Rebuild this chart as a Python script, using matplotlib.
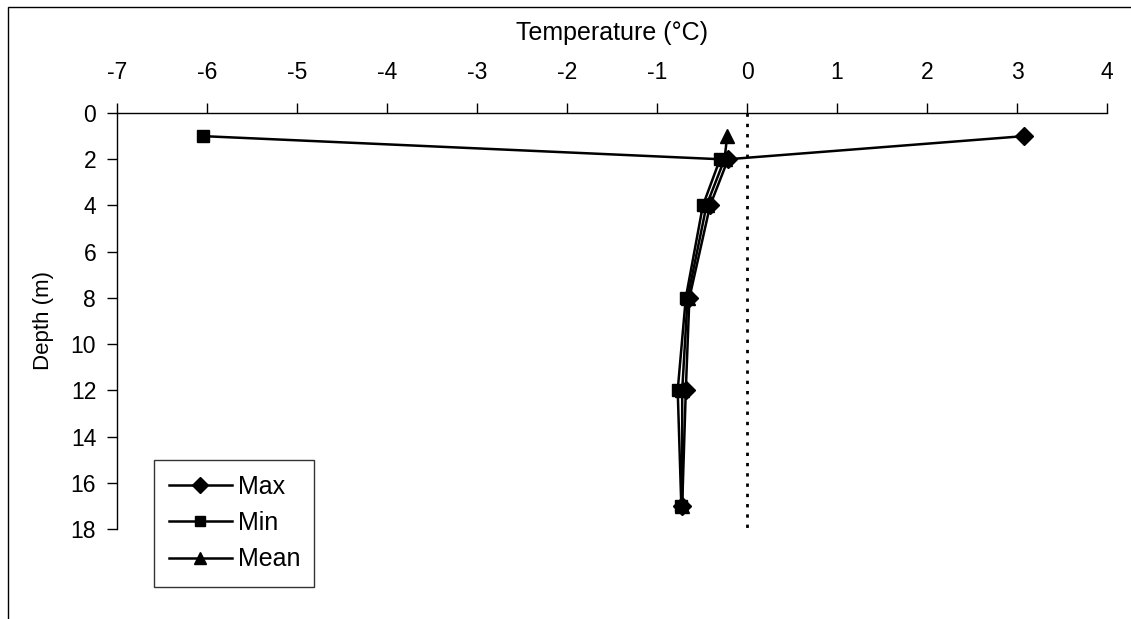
import matplotlib
matplotlib.use("Agg")
import matplotlib.pyplot as plt
from matplotlib.patches import Rectangle

plt.rcParams['font.family'] = ['Liberation Sans', 'DejaVu Sans']
plt.rcParams['axes.unicode_minus'] = False

depth = [1, 2, 4, 8, 12, 17]
t_max = [3.08, -0.21, -0.41, -0.64, -0.68, -0.72]
t_min = [-6.05, -0.30, -0.49, -0.68, -0.77, -0.73]
t_mean = [-0.22, -0.25, -0.45, -0.66, -0.72, -0.72]

x_ticks = list(range(-7, 5))
y_ticks = list(range(0, 20, 2))

fig = plt.figure(figsize=(11.31, 6.19), dpi=100)
ax = fig.add_axes([117 / 1131, 1 - 529 / 619, 990 / 1131, 416 / 619])

ax.plot(t_max, depth, color='black', lw=1.8, marker='D', ms=9, label='Max')
ax.plot(t_min, depth, color='black', lw=1.8, marker='s', ms=9, label='Min')
ax.plot(t_mean, depth, color='black', lw=1.8, marker='^', ms=10, label='Mean')
ax.plot([0, 0], [0, 18], color='black', lw=2, ls=(0, (1.2, 2.5)))

ax.set_xlim(-7, 4)
ax.set_ylim(18, 0)
ax.set_xticks(x_ticks)
ax.set_yticks(y_ticks)
ax.xaxis.tick_top()
ax.xaxis.set_label_position('top')
ax.tick_params(axis='both', labelsize=16.5, length=7, width=1, direction='out')
ax.tick_params(axis='x', pad=14)
ax.tick_params(axis='y', pad=8)
for s in ['right', 'bottom']:
    ax.spines[s].set_visible(False)
for s in ['left', 'top']:
    ax.spines[s].set_linewidth(1)
ax.set_xlabel('Temperature (°C)', fontsize=18, labelpad=15)
ax.set_ylabel('Depth (m)', fontsize=16, labelpad=12)

leg = ax.legend(loc='center left', bbox_to_anchor=(154 / 1131, 1 - 588 / 619, 160 / 1131, 130 / 619),
                bbox_transform=fig.transFigure, mode='expand', fontsize=18, frameon=True,
                fancybox=False, edgecolor='black', borderaxespad=0, handlelength=2.5,
                handletextpad=0.25, labelspacing=0.5, borderpad=0.6, markerscale=0.85)
leg.get_frame().set_linewidth(1)

fig.patches.append(Rectangle((8 / 1131, -0.01), 1.0, 1 - 7 / 619 + 0.01, transform=fig.transFigure,
                             fill=False, edgecolor='black', lw=1))

fig.savefig('out.png', dpi=100)
